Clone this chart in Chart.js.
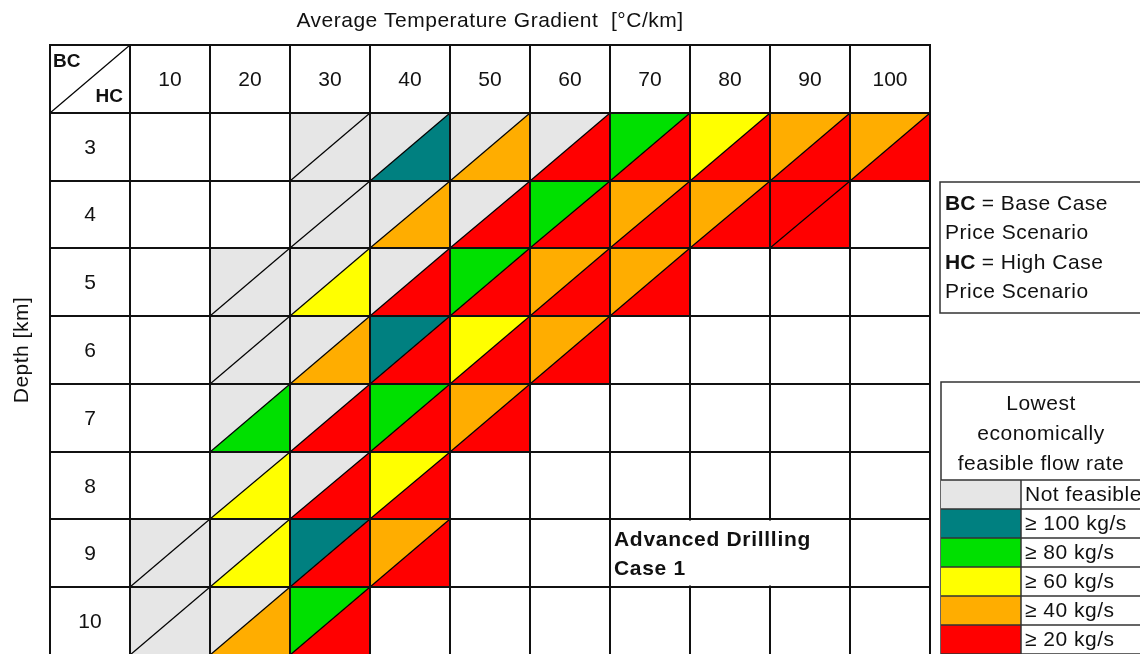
<!DOCTYPE html>
<html>
<head>
<meta charset="utf-8">
<script src="https://cdn.jsdelivr.net/npm/chart.js@4.4.1/dist/chart.umd.min.js"></script>
<style>
  html, body { margin: 0; padding: 0; background: #fff; overflow: hidden; }
  #wrap { width: 1140px; height: 654px; overflow: hidden; position: relative; }
  canvas { display: block; }
</style>
</head>
<body>
<div id="wrap"><canvas id="c" width="1140" height="700"></canvas></div>
<script>
// Columns: average temperature gradient [°C/km]; rows: depth [km]
const gradients = [10, 20, 30, 40, 50, 60, 70, 80, 90, 100];
const depths = [3, 4, 5, 6, 7, 8, 9, 10];

// Flow-rate classes (index used in the case tables below)
const flowClasses = ['Not feasible', '≥ 100 kg/s', '≥ 80 kg/s', '≥ 60 kg/s', '≥ 40 kg/s', '≥ 20 kg/s'];
const classColors = ['#e6e6e6', '#008080', '#00e000', '#ffff00', '#ffad00', '#ff0000'];

const _ = null; // not evaluated
// Base Case price scenario (upper-left triangle), one row per depth
const baseCase = [
  [_, _, 0, 0, 0, 0, 2, 3, 4, 4],
  [_, _, 0, 0, 0, 2, 4, 4, 5, _],
  [_, 0, 0, 0, 2, 4, 4, _, _, _],
  [_, 0, 0, 1, 3, 4, _, _, _, _],
  [_, 0, 0, 2, 4, _, _, _, _, _],
  [_, 0, 0, 3, _, _, _, _, _, _],
  [0, 0, 1, 4, _, _, _, _, _, _],
  [0, 0, 2, _, _, _, _, _, _, _]
];
// High Case price scenario (lower-right triangle)
const highCase = [
  [_, _, 0, 1, 4, 5, 5, 5, 5, 5],
  [_, _, 0, 4, 5, 5, 5, 5, 5, _],
  [_, 0, 3, 5, 5, 5, 5, _, _, _],
  [_, 0, 4, 5, 5, 5, _, _, _, _],
  [_, 2, 5, 5, 5, _, _, _, _, _],
  [_, 3, 5, 5, _, _, _, _, _, _],
  [0, 3, 5, 5, _, _, _, _, _, _],
  [0, 4, 5, _, _, _, _, _, _, _]
];

const xTitle = 'Average Temperature Gradient  [°C/km]';
const yTitle = 'Depth [km]';
const caseNotes = [['BC', ' = Base Case'], ['', 'Price Scenario'], ['HC', ' = High Case'], ['', 'Price Scenario']];
const legendTitle = ['Lowest', 'economically', 'feasible flow rate'];
const noteLines = ['Advanced Drillling', 'Case 1'];
const noteCell = { depth: 9, from: 70, to: 90 };

function toPoints(table) {
  const pts = [];
  table.forEach((row, i) => row.forEach((code, j) => {
    if (code !== null) pts.push({ x: gradients[j], y: depths[i], c: code });
  }));
  return pts;
}

const FONT = "'Liberation Sans', Arial, sans-serif";
const INK = '#111';

const tablePlugin = {
  id: 'feasibilityTable',
  afterDatasetsDraw(chart) {
    const ctx = chart.ctx;
    const xs = chart.scales.x, ys = chart.scales.y;
    const px = v => Math.round(xs.getPixelForValue(v));
    const py = v => Math.round(ys.getPixelForValue(v));
    const half = 5, halfD = 0.5;
    const text = (s, x, y, size, bold, spacing) => {
      ctx.font = (bold ? 'bold ' : '') + size + 'px ' + FONT;
      ctx.letterSpacing = (spacing || 0) + 'px';
      ctx.fillText(s, x, y);
      const w = ctx.measureText(s).width;
      ctx.letterSpacing = '0px';
      return w;
    };

    ctx.save();
    // triangles: dataset 0 upper-left, dataset 1 lower-right
    chart.data.datasets.forEach((ds, di) => {
      ds.data.forEach(p => {
        const l = px(p.x - half), r = px(p.x + half);
        const t = py(p.y - halfD), b = py(p.y + halfD);
        ctx.beginPath();
        if (di === 0) { ctx.moveTo(l, b); ctx.lineTo(l, t); ctx.lineTo(r, t); }
        else { ctx.moveTo(l, b); ctx.lineTo(r, t); ctx.lineTo(r, b); }
        ctx.closePath();
        ctx.fillStyle = classColors[p.c];
        ctx.fill();
      });
    });
    // diagonals
    ctx.strokeStyle = '#000';
    ctx.lineWidth = 1.2;
    const diag = (l, b, r, t) => { ctx.beginPath(); ctx.moveTo(l, b); ctx.lineTo(r, t); ctx.stroke(); };
    chart.data.datasets[0].data.forEach(p => {
      diag(px(p.x - half), py(p.y + halfD), px(p.x + half), py(p.y - halfD));
    });
    diag(px(-5), py(2.5), px(5), py(1.5));

    // table lines
    ctx.strokeStyle = INK;
    ctx.lineWidth = 2;
    ctx.beginPath();
    for (let v = -5; v <= 105; v += 10) { ctx.moveTo(px(v), py(1.5)); ctx.lineTo(px(v), py(10.5) + 20); }
    for (let d = 1.5; d <= 10.5; d += 1) { ctx.moveTo(px(-5) - 1, py(d)); ctx.lineTo(px(105) + 1, py(d)); }
    ctx.stroke();

    // merged note cell
    const nl = px(noteCell.from - half), nr = px(noteCell.to + half);
    const nt = py(noteCell.depth - halfD), nb = py(noteCell.depth + halfD);
    ctx.fillStyle = '#fff';
    ctx.fillRect(nl + 1.5, nt + 1.5, nr - nl - 3, nb - nt - 3);
    ctx.fillStyle = INK;
    ctx.textAlign = 'left';
    ctx.textBaseline = 'middle';
    text(noteLines[0], nl + 4, nt + 21, 21, true, 0.7);
    text(noteLines[1], nl + 4, nt + 50, 21, true, 0.7);

    // header texts
    ctx.textAlign = 'center';
    gradients.forEach(g => text(String(g), px(g), py(2) + 1, 21, false, 0));
    depths.forEach(d => text(String(d), px(0), py(d) + 1, 21, false, 0));
    ctx.textAlign = 'left';
    text('BC', px(-5) + 3, py(1.5) + 17, 19, true, 0);
    ctx.textAlign = 'right';
    text('HC', px(5) - 7, py(2.5) - 16, 19, true, 0);

    // axis titles
    ctx.textAlign = 'center';
    text(xTitle, px(50), 21, 21, false, 0.5);
    ctx.save();
    ctx.translate(22, py(6));
    ctx.rotate(-Math.PI / 2);
    text(yTitle, 0, 0, 21, false, 0.5);
    ctx.restore();

    // BC / HC explanation box
    const bx = px(105) + 10;
    ctx.strokeStyle = '#333';
    ctx.lineWidth = 1.5;
    ctx.strokeRect(bx, 182, 220, 131);
    ctx.textAlign = 'left';
    caseNotes.forEach((ln, i) => {
      const y = 204 + i * 29.5;
      let x = bx + 5;
      if (ln[0]) x += text(ln[0], x, y, 21, true, 0);
      text(ln[1], x, y, 21, false, 0.5);
    });

    // flow-rate legend
    const lx = bx + 1, lw = 200, ly = 382, sw = 80, rowH = 29;
    ctx.strokeRect(lx, ly, lw, 330);
    ctx.textAlign = 'center';
    legendTitle.forEach((t, i) => text(t, lx + lw / 2, 404 + i * 30, 21, false, 0.5));
    const top0 = 480;
    flowClasses.forEach((name, i) => {
      const y = top0 + i * rowH;
      ctx.fillStyle = classColors[i];
      ctx.fillRect(lx, y, sw, rowH);
      ctx.fillStyle = INK;
      ctx.textAlign = 'left';
      text(name, lx + sw + 4, y + rowH / 2 + 1, 21, false, 0.5);
    });
    ctx.beginPath();
    for (let i = 0; i <= flowClasses.length; i++) {
      ctx.moveTo(lx, top0 + i * rowH); ctx.lineTo(lx + lw, top0 + i * rowH);
    }
    ctx.moveTo(lx + sw, top0); ctx.lineTo(lx + sw, top0 + flowClasses.length * rowH + 10);
    ctx.stroke();
    ctx.restore();
  }
};

new Chart(document.getElementById('c'), {
  type: 'scatter',
  data: {
    datasets: [
      { label: 'BC', data: toPoints(baseCase), pointRadius: 0, pointHoverRadius: 0 },
      { label: 'HC', data: toPoints(highCase), pointRadius: 0, pointHoverRadius: 0 }
    ]
  },
  options: {
    responsive: false,
    animation: false,
    layout: { padding: { left: 50, top: 45, right: 210, bottom: 45 } },
    plugins: { legend: { display: false }, tooltip: { enabled: false }, title: { display: false } },
    scales: {
      x: { type: 'linear', min: -5, max: 105, display: false },
      y: { type: 'linear', min: 1.5, max: 10.5, reverse: true, display: false }
    }
  },
  plugins: [tablePlugin]
});
</script>
</body>
</html>
